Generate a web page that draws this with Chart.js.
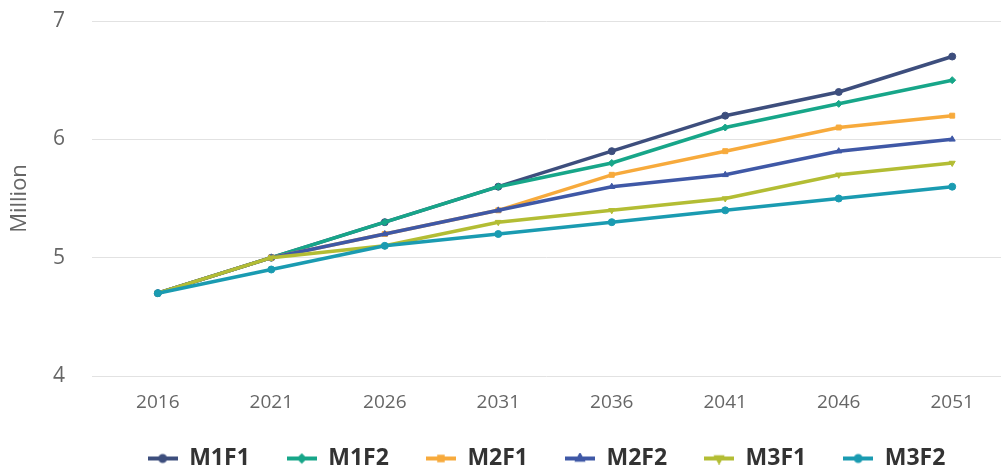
<!DOCTYPE html>
<html>
<head>
<meta charset="utf-8">
<script src="https://cdn.jsdelivr.net/npm/chart.js@4/dist/chart.umd.min.js"></script>
<style>
  html, body { margin: 0; padding: 0; background: #fff; }
  canvas { display: block; }
</style>
</head>
<body>
<canvas id="chart" width="1006" height="476"></canvas>
<script>
// years on the x axis
const years = [2016, 2021, 2026, 2031, 2036, 2041, 2046, 2051]
const yTicks = [4, 5, 6, 7]

// population projections, million
const m1f1 = [4.7, 5.0, 5.3, 5.6, 5.9, 6.2, 6.4, 6.7]
const m1f2 = [4.7, 5.0, 5.3, 5.6, 5.8, 6.1, 6.3, 6.5]
const m2f1 = [4.7, 5.0, 5.2, 5.4, 5.7, 5.9, 6.1, 6.2]
const m2f2 = [4.7, 5.0, 5.2, 5.4, 5.6, 5.7, 5.9, 6.0]
const m3f1 = [4.7, 5.0, 5.1, 5.3, 5.4, 5.5, 5.7, 5.8]
const m3f2 = [4.7, 4.9, 5.1, 5.2, 5.3, 5.4, 5.5, 5.6]

const seriesNames = ['M1F1', 'M1F2', 'M2F1', 'M2F2', 'M3F1', 'M3F2']
const seriesValues = [m1f1, m1f2, m2f1, m2f2, m3f1, m3f2]
const colors = ['#3d4e7d', '#17a689', '#f7aa3c', '#3f58a6', '#b3bd34', '#1a9bb1']
const styles = ['circle', 'rectRot', 'rect', 'triangle', 'triangle', 'circle']
const rotations = [0, 0, 0, 0, 180, 0]

// little line + marker picture for the legend
function legendIcon(color, style, rotation){
    let c = document.createElement('canvas')
    c.width = 30
    c.height = 12
    let ctx = c.getContext('2d')
    ctx.strokeStyle = color
    ctx.lineWidth = 4
    ctx.beginPath()
    ctx.moveTo(0, 6)
    ctx.lineTo(30, 6)
    ctx.stroke()
    ctx.fillStyle = color
    Chart.helpers.drawPoint(ctx, { pointStyle: style, rotation: rotation, radius: 2.5, borderWidth: 1 }, 15, 6)
    return c
}

let datasets = []
for(let i = 0; i < seriesNames.length; i++){
    datasets.push({
        label: seriesNames[i],
        data: years.map((y, j) => ({ x: y, y: seriesValues[i][j] })),
        borderColor: colors[i],
        backgroundColor: colors[i],
        borderWidth: 3.5,
        pointStyle: styles[i],
        pointRotation: rotations[i],
        pointRadius: 3.5,
        pointBorderWidth: 1,
        tension: 0,
        order: seriesNames.length - i,
        icon: legendIcon(colors[i], styles[i], rotations[i])
    })
}

const fontFamily = '"Open Sans", "Noto Sans", sans-serif'

new Chart(document.getElementById('chart'), {
    type: 'line',
    data: { datasets: datasets },
    options: {
        responsive: false,
        animation: false,
        devicePixelRatio: 1,
        layout: { padding: { top: 21, right: 0, left: 0, bottom: -4 } },
        scales: {
            x: {
                type: 'linear',
                min: 2013.1,
                max: 2053.15,
                afterBuildTicks: (scale) => { scale.ticks = years.map(v => ({ value: v })) },
                afterFit: (scale) => { scale.height = 34 },
                grid: { display: false, drawTicks: false },
                border: { display: false },
                ticks: {
                    padding: 15,
                    color: '#666',
                    font: { family: fontFamily, size: 19 },
                    callback: (v) => String(v)
                }
            },
            y: {
                min: 4,
                max: 7,
                afterBuildTicks: (scale) => { scale.ticks = yTicks.map(v => ({ value: v })) },
                afterFit: (scale) => {
                    scale.width = 92
                    // the tick padding should not push the plot down
                    scale.paddingTop = 0
                    scale.paddingBottom = 0
                },
                grid: { color: '#e2e2e2', lineWidth: 1, drawTicks: false },
                border: { display: false },
                ticks: {
                    padding: 27,
                    color: '#666',
                    font: { family: fontFamily, size: 21 }
                },
                title: {
                    display: true,
                    text: 'Million',
                    color: '#666',
                    padding: { top: 7, bottom: 0 },
                    font: { family: fontFamily, size: 22 }
                }
            }
        },
        plugins: {
            tooltip: { enabled: false },
            legend: {
                position: 'bottom',
                fullSize: false,
                labels: {
                    usePointStyle: true,
                    pointStyleWidth: 30,
                    padding: 37,
                    color: '#333',
                    font: { family: fontFamily, size: 23, weight: 'bold' },
                    sort: (a, b) => a.datasetIndex - b.datasetIndex,
                    generateLabels: (chart) => {
                        let items = Chart.defaults.plugins.legend.labels.generateLabels(chart)
                        items.forEach(it => { it.pointStyle = chart.data.datasets[it.datasetIndex].icon; it.rotation = 0 })
                        return items
                    }
                }
            }
        }
    }
})
</script>
</body>
</html>
